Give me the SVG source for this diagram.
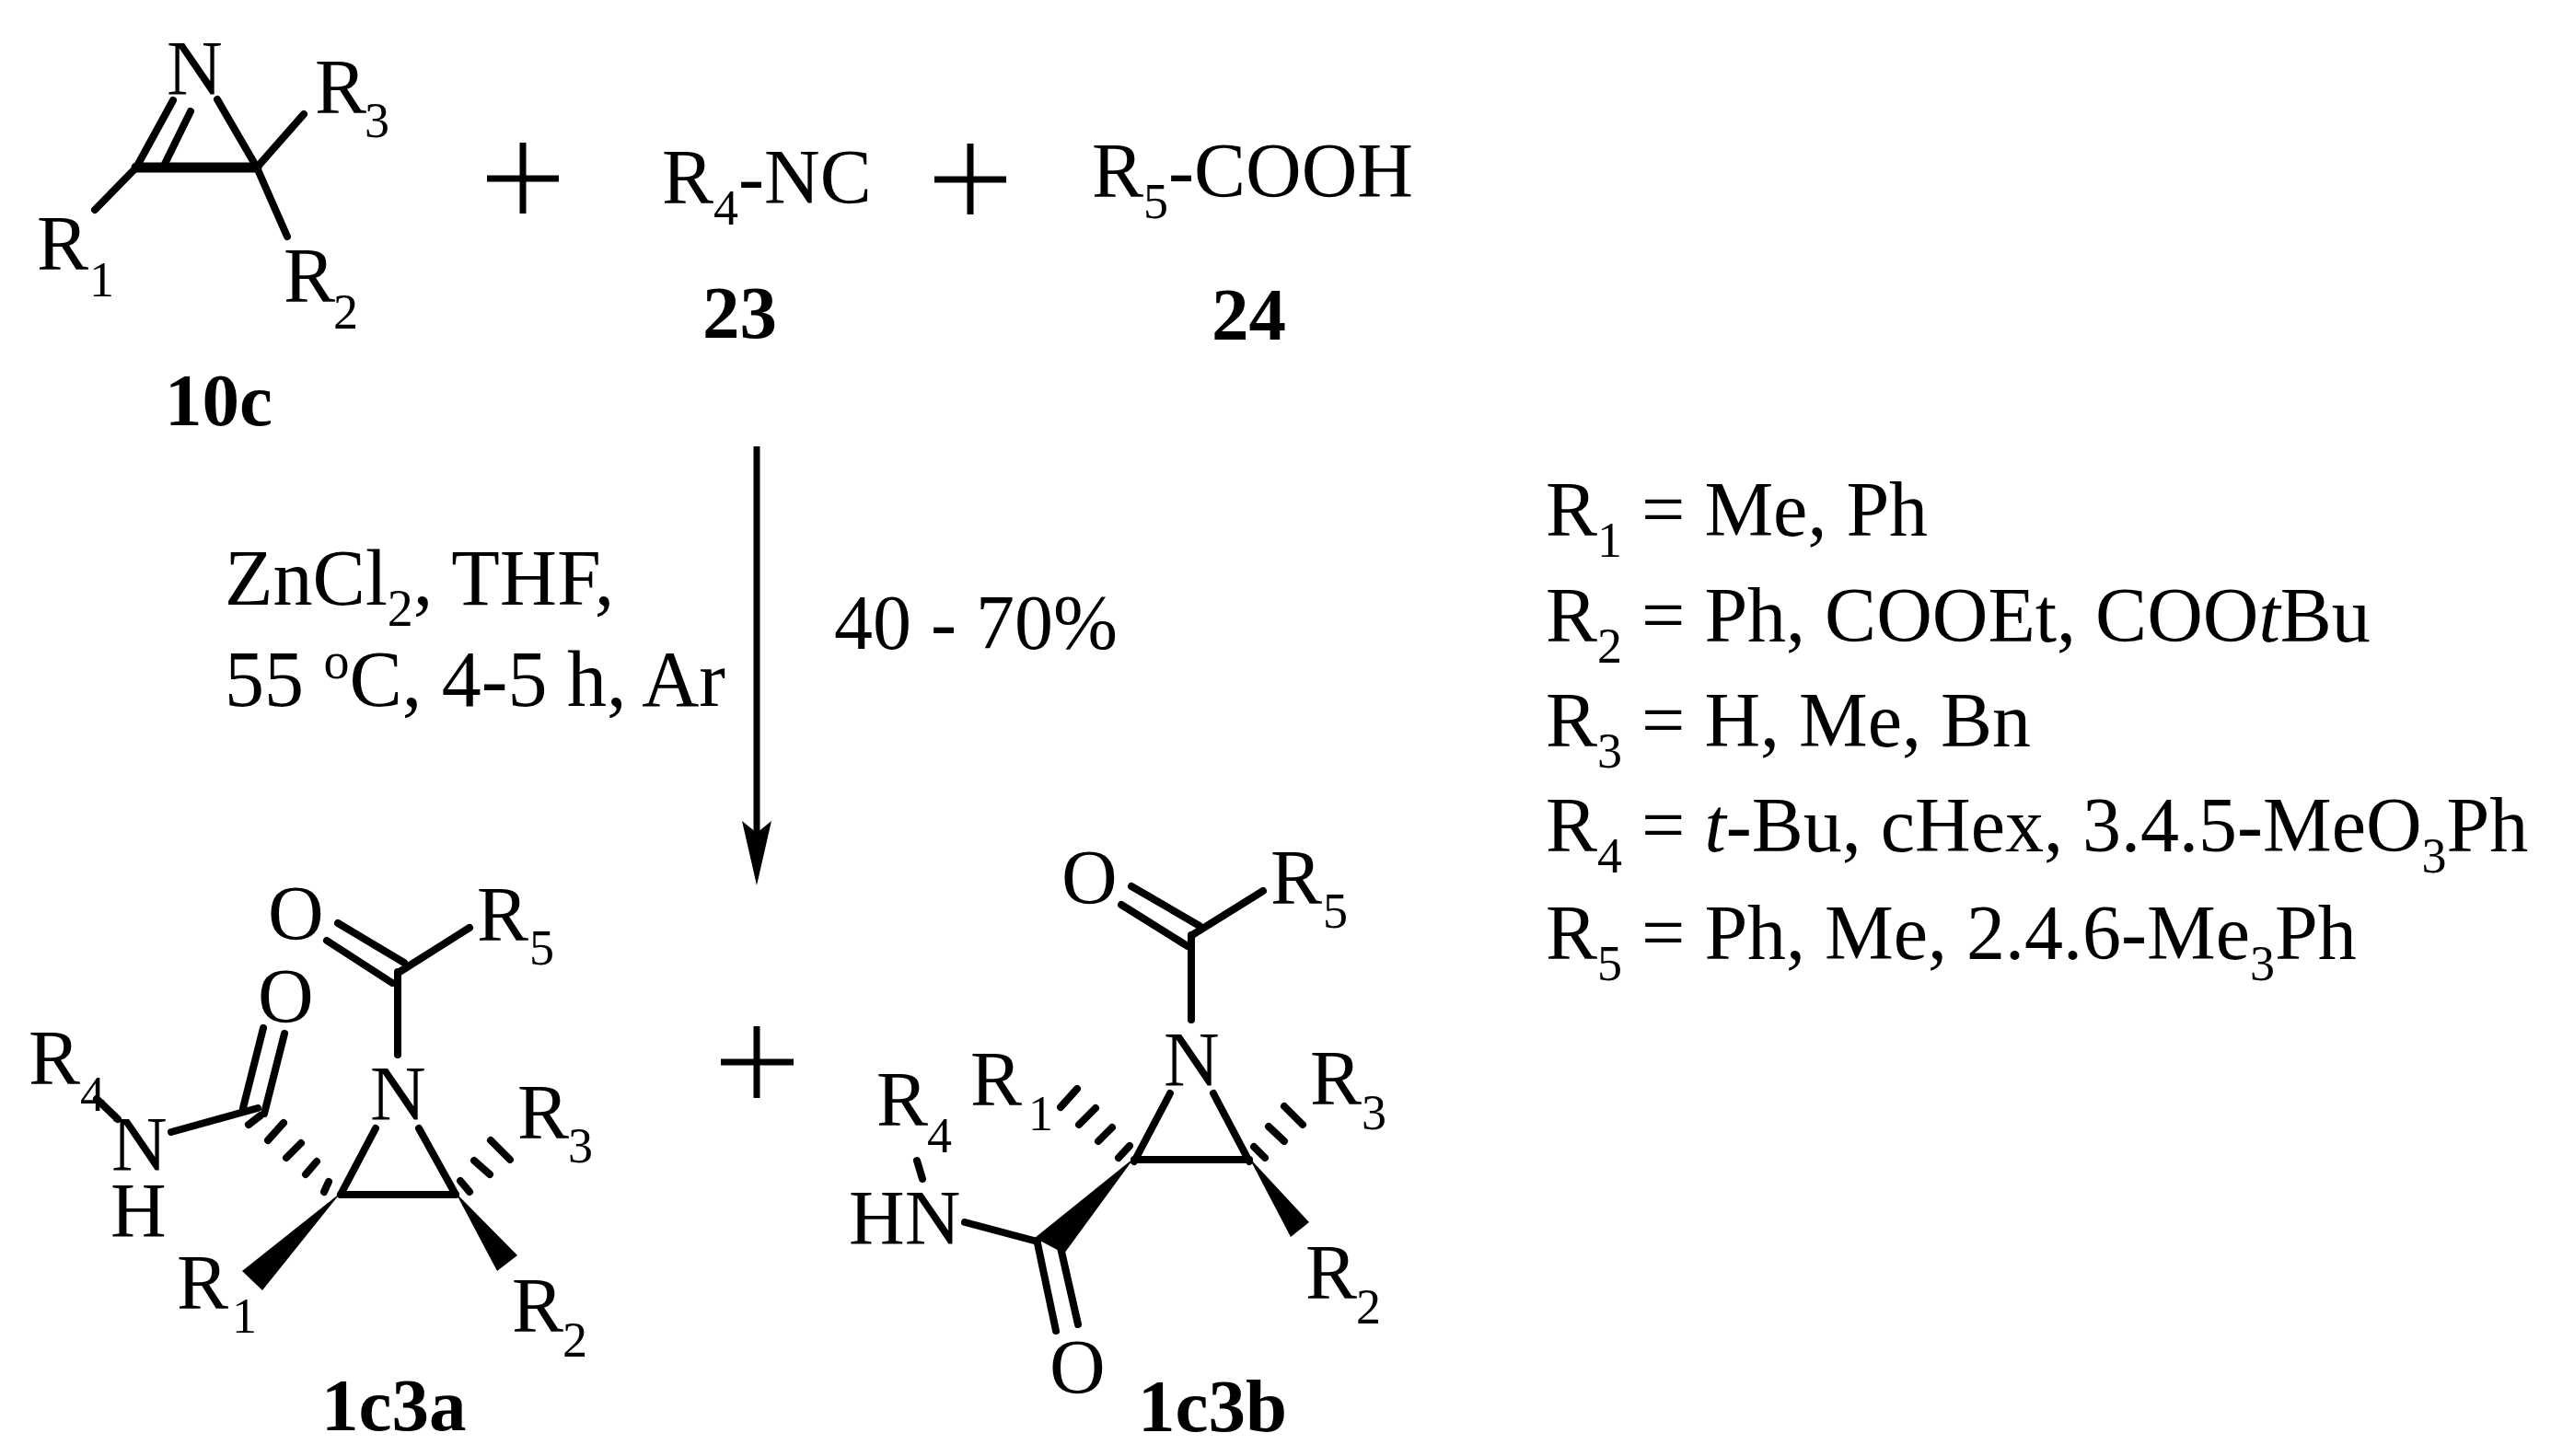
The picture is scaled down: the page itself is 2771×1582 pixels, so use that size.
<svg xmlns="http://www.w3.org/2000/svg" width="2771" height="1582" viewBox="0 0 2771 1582">
<style>
text{font-family:"Liberation Serif","Times New Roman",serif;font-size:84px;fill:#000}
.b{font-weight:700;font-size:81px}
.s{font-size:54px}
.i{font-style:italic}
.c{font-size:86px}
.c .s{font-size:56px}
line{stroke:#000;stroke-width:8;stroke-linecap:round}
.p{stroke-linecap:butt;stroke-width:7}
.t{stroke-width:11}
polygon{fill:#000}
</style>
<rect width="2771" height="1582" fill="#fff"/>
<g id="connectors">
<line class="p" x1="822" y1="485" x2="822" y2="920"/>
<polygon points="822,962 806,892 822,905 838,892"/>
</g>
<g id="node-10c">
<line x1="188" y1="109" x2="148" y2="182"/>
<line x1="207" y1="121" x2="179" y2="178"/>
<line x1="236" y1="108" x2="279" y2="182"/>
<line class="t" x1="148" y1="182" x2="279" y2="182"/>
<line x1="279" y1="182" x2="330" y2="124"/>
<line x1="148" y1="182" x2="103" y2="228"/>
<line x1="279" y1="182" x2="312" y2="257"/>
<text x="181" y="103">N</text>
<text x="342" y="123">R</text><text class="s" x="396" y="149">3</text>
<text x="40" y="293">R</text><text class="s" x="97" y="322">1</text>
<text x="308" y="328">R</text><text class="s" x="362" y="357">2</text>
<text class="b" x="179" y="462">10c</text>
</g>
<g id="plus-1"><line class="p" x1="568" y1="155" x2="568" y2="232"/><line class="p" x1="529" y1="194" x2="607" y2="194"/></g>
<g id="node-23">
<text x="719" y="221">R<tspan class="s" dy="23">4</tspan><tspan dy="-23">-NC</tspan></text>
<text class="b" x="763" y="367">23</text>
</g>
<g id="plus-2"><line class="p" x1="1054" y1="156" x2="1054" y2="233"/><line class="p" x1="1015" y1="195" x2="1093" y2="195"/></g>
<g id="node-24">
<text x="1186" y="214">R<tspan class="s" dy="23">5</tspan><tspan dy="-23">-COOH</tspan></text>
<text class="b" x="1316" y="369">24</text>
</g>
<g id="conditions">
<text class="c" x="244" y="657">ZnCl<tspan class="s" dy="23">2</tspan><tspan dy="-23">, THF,</tspan></text>
<text class="c" x="244" y="767">55 <tspan class="s" dy="-30">o</tspan><tspan dy="30">C, 4-5 h, Ar</tspan></text>
<text x="906" y="705">40 - 70%</text>
</g>
<g id="r-groups">
<text x="1679" y="582">R<tspan class="s" dy="23">1</tspan><tspan dy="-23"> = Me, Ph</tspan></text>
<text x="1679" y="697">R<tspan class="s" dy="23">2</tspan><tspan dy="-23"> = Ph, COOEt, COO</tspan><tspan class="i">t</tspan>Bu</text>
<text x="1679" y="811">R<tspan class="s" dy="23">3</tspan><tspan dy="-23"> = H, Me, Bn</tspan></text>
<text x="1679" y="925">R<tspan class="s" dy="23">4</tspan><tspan dy="-23"> = </tspan><tspan class="i">t</tspan>-Bu, cHex, 3.4.5-MeO<tspan class="s" dy="23">3</tspan><tspan dy="-23">Ph</tspan></text>
<text x="1679" y="1042">R<tspan class="s" dy="23">5</tspan><tspan dy="-23"> = Ph, Me, 2.4.6-Me</tspan><tspan class="s" dy="23">3</tspan><tspan dy="-23">Ph</tspan></text>
</g>
<g id="node-1c3a">
<line x1="434" y1="1056" x2="510" y2="1008"/>
<line x1="432" y1="1056" x2="432" y2="1146"/>
<line x1="367" y1="1003" x2="439" y2="1046"/>
<line x1="355" y1="1022" x2="426" y2="1068"/>
<line x1="408" y1="1226" x2="370" y2="1298"/>
<line x1="455" y1="1226" x2="495" y2="1298"/>
<line x1="370" y1="1298" x2="495" y2="1298"/>
<polygon points="370,1296 263,1381 285,1402"/>
<polygon points="495,1296 562,1364 540,1381"/>
<line x1="533" y1="1239" x2="554" y2="1260"/>
<line x1="515" y1="1261" x2="532" y2="1276"/>
<line x1="500" y1="1283" x2="510" y2="1295"/>
<line x1="357" y1="1284" x2="352" y2="1295"/>
<line x1="344" y1="1262" x2="332" y2="1276"/>
<line x1="327" y1="1242" x2="311" y2="1258"/>
<line x1="308" y1="1220" x2="291" y2="1239"/>
<line x1="283" y1="1212" x2="270" y2="1222"/>
<line x1="286" y1="1117" x2="264" y2="1204"/>
<line x1="309" y1="1123" x2="287" y2="1210"/>
<line x1="280" y1="1204" x2="186" y2="1230"/>
<line x1="105" y1="1194" x2="128" y2="1216"/>
<text x="291" y="1021">O</text>
<text x="518" y="1022">R</text><text class="s" x="575" y="1048">5</text>
<text x="280" y="1111">O</text>
<text x="402" y="1217">N</text>
<text x="562" y="1237">R</text><text class="s" x="617" y="1263">3</text>
<text x="192" y="1422">R</text><text class="s" x="252" y="1448">1</text>
<text x="556" y="1447">R</text><text class="s" x="611" y="1474">2</text>
<text x="31" y="1178">R</text><text class="s" x="87" y="1207">4</text>
<text x="121" y="1272">N</text>
<text x="120" y="1344">H</text>
<text class="b" x="349" y="1554">1c3a</text>
</g>
<g id="plus-3"><line class="p" x1="822" y1="1115" x2="822" y2="1193"/><line class="p" x1="783" y1="1154" x2="862" y2="1154"/></g>
<g id="node-1c3b">
<line x1="1295" y1="1016" x2="1372" y2="968"/>
<line x1="1294" y1="1016" x2="1294" y2="1108"/>
<line x1="1229" y1="963" x2="1303" y2="1006"/>
<line x1="1218" y1="983" x2="1290" y2="1028"/>
<line x1="1271" y1="1188" x2="1232" y2="1262"/>
<line x1="1318" y1="1188" x2="1357" y2="1262"/>
<line x1="1232" y1="1260" x2="1357" y2="1260"/>
<line x1="1395" y1="1202" x2="1415" y2="1222"/>
<line x1="1378" y1="1224" x2="1395" y2="1240"/>
<line x1="1362" y1="1246" x2="1374" y2="1258"/>
<line x1="1170" y1="1183" x2="1152" y2="1203"/>
<line x1="1190" y1="1204" x2="1172" y2="1222"/>
<line x1="1208" y1="1225" x2="1193" y2="1240"/>
<line x1="1227" y1="1245" x2="1215" y2="1258"/>
<polygon points="1357,1258 1422,1328 1402,1344"/>
<polygon points="1232,1258 1124,1345 1156,1362"/>
<line x1="996" y1="1261" x2="1002" y2="1281"/>
<line x1="1048" y1="1328" x2="1127" y2="1349"/>
<line x1="1127" y1="1351" x2="1147" y2="1446"/>
<line x1="1151" y1="1351" x2="1171" y2="1439"/>
<text x="1153" y="982">O</text>
<text x="1380" y="982">R</text><text class="s" x="1437" y="1008">5</text>
<text x="1264" y="1180">N</text>
<text x="1423" y="1200">R</text><text class="s" x="1479" y="1227">3</text>
<text x="1418" y="1411">R</text><text class="s" x="1473" y="1438">2</text>
<text x="1054" y="1201">R</text><text class="s" x="1117" y="1228">1</text>
<text x="952" y="1223">R</text><text class="s" x="1007" y="1252">4</text>
<text x="922" y="1352">HN</text>
<text x="1140" y="1514">O</text>
<text class="b" x="1236" y="1555">1c3b</text>
</g>
</svg>
